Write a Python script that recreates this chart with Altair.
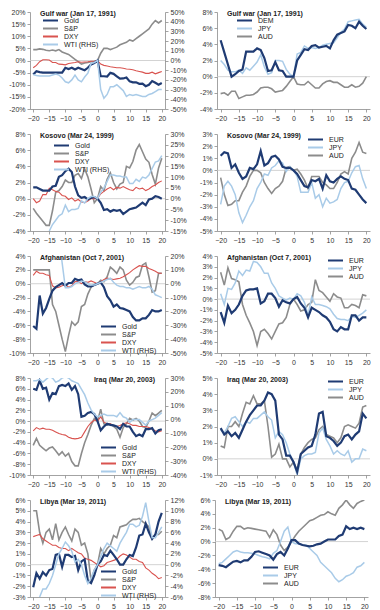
import altair as alt
import pandas as pd

days = list(range(-20, 21))
xticks = [-20, -15, -10, -5, 0, 5, 10, 15, 20]

# ---------- Gulf war (Jan 17, 1991) ----------
gulf_gold = [-5.8,-4.4,-4.8,-5,-5,-5,-5,-5,-5,-5, -3,-3.5,-3,-3.7,-3,-3.5,-4,-3,-1.6,-1, 0,
             -6.5,-6.5,-6.6,-5.1,-5.5,-6.5,-7.5,-7.4,-7,-8.6,-9,-9,-9.6,-9.5,-10.6,-10,-8.5,-9.2,-10,-9.3]
gulf_sp = [4.5,4.5,4.8,4.6,4.2,4,4.3,4,4.5,3.5, 3,2.5,1.5,0.5,-0.5,-1.5,-1,-0.8,-0.5,-0.5, 0,
           3,5,5,4.5,5,5.5,6.5,7,7.5,8.5,8,9,10,11,12,13,15,16.5,15.5,16.5]
gulf_dxy = [-3,-2,-0.5,0.3,0.3,0.2,-0.8,-0.8,-1.5,-1.6, -1.8,-1.2,-1,-0.8,-0.5,-0.7,-0.6,-0.5,-0.3,-0.2, 0,
            -1.5,-2,-2.3,-2.6,-2.8,-3,-3,-3.2,-3.5,-3.6,-3.8,-4.2,-4.5,-4.8,-5.3,-5.3,-4.8,-5.5,-5,-4.5]
gulf_wti = [-14.5,-15.5,-16,-16,-16,-16,-15,-14,-15,-18, -22,-23,-20,-15,-20,-22,-17,-13,-3,-2, 0,
            -30,-39,-35,-27,-27,-25,-28,-31,-37,-35,-36,-35,-36,-37,-37,-35,-34,-32,-30,-30]
gulf_dem = [4.5,3,1.5,0,0.3,0.7,0.9,3.1,3.1,3.1, 3.5,3.3,2.3,0.7,0.8,1.8,0.8,0.7,0,0, 0,
            2,2.7,3.4,3.3,3.8,3.9,3.6,3.7,3.8,3.5,4.5,5.2,5.4,5.6,6.4,6.3,6.0,6.8,6.3,5.9]
gulf_jpy = [2,1.5,0.8,0.6,0.6,0.8,0.4,1.1,0.8,1.3, 1.8,2.7,1.2,0.3,0.5,2,2,1.9,0.9,0.3, 0,
            2.8,3,3.8,3.5,3.6,3.5,3.6,3.9,4,4.1,4.2,4.8,5.5,5.9,6.8,6.9,7.0,7.1,6.5,6.1]
gulf_aud = [-2.1,-2,-2.3,-1.8,-1.8,-2.7,-2.5,-2.3,-2.3,-2.2, -1.9,-1.4,-1.3,-1.3,-1.5,-1.9,-1.8,-1.7,-1.2,-0.6, 0,
            -0.9,-1,-1,-0.6,-1,-1.4,-1.4,-0.9,-0.6,-0.5,-0.7,-0.7,-1,-1.3,-1.3,-1.0,-1.3,-1.2,-0.8,0]

# ---------- Kosovo (Mar 24, 1999) ----------
kos_gold = [1.4,1.4,1.2,1.0,1.0,1.0,1.5,1.6,2.7,2.9, 3.4,3.7,3.3,1.5,0.4,0.1,0.2,-0.1,0.1,0.2, 0,
            -0.5,-1.4,-1.3,-1.6,-1.4,-1.5,-1.4,-1.9,-1.6,-1.3,-1.2,-1.1,-0.8,-0.5,-0.8,-0.1,0,0.3,0.2,0]
kos_sp = [-1.2,-1.8,-2.3,-2.8,-3.3,-3.3,-1.5,0.8,1.0,1.5, 2.3,2.0,2.0,2.9,3.1,2.5,3.7,2.7,1.2,-0.5, 0,
          1.5,1.0,2.4,3.2,2.0,1.2,1.8,2.0,4.0,3.8,4.6,6.0,6.7,5.8,4.9,4.5,3.0,1.8,3.8,5.0]
kos_dxy = [0,-0.5,-0.3,0.5,0.5,1.3,1.1,0.9,0.8,0.4, 0.3,-0.1,0.1,-0.3,-0.1,-0.4,-0.5,-0.3,0,0, 0,
           0.6,0.9,1.2,1.4,1.1,1.4,1.3,1.5,1.3,1.1,1.0,1.4,1.2,1.3,1.0,1.2,1.5,1.7,2.0,2.2]
kos_wti = [None,None,None,None,None,-15,-12,-10,-8,-7, -3,-6,-5,-5,-4.5,-1,-2,0,1,1, 0,
           3,5,8,11,11,10.5,10.5,10,10,7,7,9,8,10,9.5,11,14,17,17.5,20]
kos_eur = [1.2,1.5,1.4,0.2,0.5,-0.2,-0.7,-0.5,0.2,0.1, 0.5,1.6,0.4,0.6,1.1,1.2,0.9,0.3,0.2,0.2, 0,
           -0.3,-0.8,-1.3,-1.4,-0.8,-0.9,-0.7,-1.5,-0.4,-0.9,-1.0,-0.7,-0.5,-0.7,-0.8,-1.5,-1.6,-2.0,-2.4,-2.7]
kos_jpy = [-2.8,-1.3,-0.9,-1.3,-2.0,-3.5,-4.3,-3.7,-3.0,-2.5, -1.5,-1.0,-0.3,-0.4,0.2,0.4,0.8,0.6,-0.1,0.3, 0,
           -0.5,-1.8,-1.8,-1.8,-1.0,-2.3,-2.0,-3.0,-2.3,-2.7,-2.6,-2.4,-1.5,-1.0,-0.9,-0.2,0.3,0.4,-0.7,-1.5]
kos_aud = [-0.6,-2.0,-2.9,-2.8,-2.5,-2.5,-1.8,-1.3,-0.5,0, 0,-0.2,-1.0,-1.5,-1.9,-1.5,-1.3,-0.9,0.2,0.3, 0,
           0.1,-0.3,-0.8,-1.5,-0.5,-0.5,-0.5,-1.0,-1.2,-1.5,-1.5,-1.0,-0.3,-0.1,-0.3,1.0,1.5,2.3,1.5,1.4]

# ---------- Afghanistan (Oct 7, 2001) ----------
afg_gold = [-6.1,-6.5,-1.7,-4.3,-3.5,-2.2,-1.0,-0.5,-0.2,0.1, -0.3,0.1,0.1,0.7,0.5,0.6,-0.1,-0.4,-0.4,-0.2, 0,
            0.2,-0.5,-1.8,-2.4,-3.3,-3.0,-3.5,-3.6,-3.8,-4.0,-4.8,-5.3,-5.3,-5.0,-5.0,-4.5,-3.8,-4.0,-4.0,-3.8]
afg_sp = [2,2,2,2,2,2,-3,-4,-6,-8, -9.8,-7.5,-5.5,-6,-5.5,-3.3,-3,-1.5,-0.5,-0.2, 0,
          0.5,0.3,1.0,2.4,2.0,1.5,2.4,2.0,0.5,-0.2,0.2,0.9,1.1,2.7,3.0,1.0,-1.2,-1.0,1.5,1.5]
afg_dxy = [1.2,1.8,1.5,1.5,1.3,1.2,-0.3,-0.6,-0.5,-0.3, -0.1,-0.5,-0.3,0.3,0.3,0,0.3,0.2,0.4,0.2, 0,
           0.3,0.6,0.8,0.7,0.6,0.7,0.8,1.0,1.3,1.6,2.0,2.3,2.6,2.5,2.5,2.2,2.0,1.8,1.5,1.5]
afg_wti = [None,None,None,None,None,None,None,None,35,15, -3,-3,-2,0,1,2,1.5,0,-1,-1, 0,
           1,2,3,4,1,-1,-2,-2,-3,-3,-4,-3,-2,-3,-3,-2,-4,-8,-9,-10]
afg_eur = [-1.2,-2.2,-0.6,-1.3,-1.0,-0.5,0.3,0.8,0.9,0.9, 1.0,-0.4,-0.2,0.5,0.5,0.1,-0.7,-0.1,-0.3,-0.4, 0,
           0.2,-0.4,-0.8,-1.7,-0.8,-1.0,-1.2,-1.5,-1.7,-2.1,-2.8,-3.0,-2.6,-2.8,-2.8,-1.5,-1.5,-2.0,-1.7,-1.7]
afg_jpy = [0.5,-0.5,1.0,0.9,1.5,2.6,2.2,2.7,2.6,3.5, 3.4,3.0,2.4,2.4,1.5,1.0,0.3,0.1,-0.1,0.1, 0,
           0.5,0.3,-0.3,-1.5,0.2,-0.5,-0.5,-0.6,-0.7,-0.9,-1.4,-1.8,-1.9,-1.9,-2.0,-1.6,-1.7,-1.5,-1.3,-1.0]
afg_aud = [2.5,1.3,2.9,1.9,1.8,1.6,-0.5,-1.5,-2.2,-3.0, -4.3,-3.0,-2.8,-3.2,-3.7,-3.0,-2.3,-2.2,-1.7,-0.5, 0,
           -0.5,-1.1,-1.0,-0.5,-0.3,1.8,0.8,0.6,0.2,-0.2,0.5,0.2,0.1,-0.8,-0.8,-0.5,-0.6,-0.8,0.4,0.3]

# ---------- Iraq (Mar 20, 2003) ----------
irq_gold = [6.0,5.8,7.5,6.0,6.2,4.0,5.2,5.0,6.5,6.7, 6.5,7.0,5.8,6.5,5.0,0.8,1.0,1.5,1.7,1.3, 0,
            -1.7,-1.0,-0.5,-0.7,-0.8,-1.0,-1.5,-0.5,-1.0,-1.0,-2.0,-2.8,-2.5,-2.8,-1.5,-1.5,-1.3,-2.3,-1.7,-1.5]
irq_sp = [-4.5,-3.2,-4.5,-5.0,-5.5,-5.0,-4.8,-5.5,-6.3,-5.7, -6.5,-6.0,-7.5,-8.3,-8.3,-6.0,-4.0,-2.5,-0.8,0.5, 0,
          2.2,-0.5,-0.7,-0.5,-1.0,-1.5,-3.0,-1.2,-0.5,0.5,0.2,0.5,0.0,-1.0,-1.2,0.0,1.5,1.0,1.5,2.0]
irq_dxy = [-1.8,-1.2,-1.5,-1.3,-1.5,-1.5,-1.7,-2.0,-2.3,-2.5, -2.6,-3.0,-3.2,-3.3,-3.2,-3.0,-2.0,-1.0,-0.3,0.2, 0,
           0.8,-0.2,-0.5,-0.5,-0.8,-1.0,-0.8,-0.5,-0.3,-0.5,-0.8,-0.8,-1.0,-1.0,-1.0,-1.2,-1.5,-1.8,-2.0,-1.8]
irq_wti = [28,28,29,27,29,31,30,27,28,30, 31,30,28,27,26,22,18,12,7,4, 2,
           3,4,3,3,3,2,5,2,1,-2,0,0,0,-2,-4,-1,0,1,3,5]
irq_eur = [1.9,1.5,1.7,1.4,1.6,1.3,1.8,2.3,2.7,3.0, 3.3,3.3,3.6,4.1,4.0,3.6,1.5,1.2,0.2,0.2, -0.2,
           -0.8,0.3,0.5,0.7,0.8,1.5,2.8,2.9,1.4,1.3,1.1,0.8,1.0,1.4,1.5,1.2,1.5,1.7,2.8,2.5]
irq_jpy = [1.8,1.6,2.0,2.5,2.6,2.3,2.0,2.3,2.2,2.5, 2.5,2.7,2.9,2.6,2.4,1.3,1.7,1.5,1.0,0.3, -0.2,
           -1.0,0.0,0.2,0.3,0.3,0.4,1.6,1.9,1.2,0.8,0.3,0.5,0.3,0.2,0.5,-0.2,0.0,0.0,0.6,0.5]
irq_aud = [0.8,0.7,2.0,2.0,2.3,2.0,2.8,3.5,3.4,3.9, 3.4,3.4,3.6,2.0,0.1,0.3,0.9,0.0,0.0,-0.5, -0.2,
           -0.7,0.3,0.7,1.0,1.2,1.3,1.8,2.0,1.5,1.4,1.3,1.0,1.3,2.0,2.1,2.0,1.9,2.2,3.2,3.3]

# ---------- Libya (Mar 19, 2011) ----------
lby_gold = [-2.1,-0.8,-1.3,-0.7,-1.0,-0.5,-0.4,0.9,1.0,-0.2, 0.9,0.9,0.7,0.8,-0.5,0.3,0.5,-1.5,-1.7,-1.0, 0,
            0.3,0.9,0.8,1.3,0.9,0.5,0.0,0.0,0.5,0.9,0.8,1.6,2.7,2.8,3.8,3.0,2.4,2.8,4.0,4.8]
lby_sp = [5.0,5.0,3.0,2.0,3.0,3.3,2.3,3.8,2.3,3.0, 3.5,2.8,2.2,3.3,3.0,1.8,2.0,1.0,-1.5,-0.5, 0,
          1.5,1.0,1.5,1.8,2.7,2.5,3.5,3.6,3.7,4.0,4.2,4.2,4.3,4.0,3.8,3.5,2.4,2.8,2.8,3.1]
lby_dxy = [2.6,2.7,2.8,2.4,2.2,2.0,1.8,1.8,1.6,1.5, 1.5,1.3,1.5,1.3,1.1,1.0,0.6,0.5,0.4,0.2, 0,
           -0.2,-0.1,0.2,0.3,0.4,0.5,0.8,1.0,0.9,0.7,0.5,0.5,0.3,0.2,-0.3,-0.5,-0.8,-1.0,-1.3,-1.2]
lby_wti = [None,None,-6,-4.5,-4.5,-3.5,-2,0,2,3, 4.2,3.5,2.5,0.5,1.0,0,-2,-3.5,-2.5,-1, 0,
           1.5,3,4,3.5,3,2.5,4,5,6,7.5,7.5,7,7.3,9,11.5,8,5,5,6,7]
lby_eur = [-3.4,-3.5,-3.7,-3.3,-2.9,-2.8,-3.0,-2.7,-2.7,-2.2, -1.5,-1.4,-1.6,-1.8,-2.0,-2.6,-1.8,-1.5,-2.0,-1.0, 0.2,
           0.2,-0.3,-0.5,-0.6,-0.7,-0.6,-0.4,-0.3,0.0,0.3,0.3,0.3,0.8,1.0,2.2,1.8,2.0,1.8,2.0,1.8]
lby_jpy = [-3.2,-3.0,-2.5,-2.0,-1.5,-1.3,-1.5,-1.6,-1.6,-1.7, -1.8,-2.0,-2.2,-2.3,-2.5,-1.7,-1.3,0.0,1.5,2.1, 0.0,
           -0.3,-0.3,-0.5,-0.5,-1.0,-1.5,-2.0,-3.0,-3.5,-4.0,-4.5,-5.3,-5.8,-5.5,-5.0,-4.8,-4.5,-3.7,-3.5,-3.0]
lby_aud = [1.8,1.5,0.3,0.6,1.5,2.2,2.2,1.8,2.0,1.9, 1.8,1.7,1.6,1.5,0.6,1.7,1.0,-0.5,-1.3,-0.8, 0.0,
           0.8,1.5,2.0,2.5,3.0,3.2,3.5,3.8,3.9,4.3,4.0,3.8,4.8,5.3,6.0,5.3,4.8,5.5,5.8,6.0]

NAVY = "#1F3B73"
GRAY = "#8C8C8C"
RED = "#D9534F"
LBLUE = "#A9CBE8"
FONT = "Liberation Sans"
WL, WR, H = 135, 153, 97

x_enc = alt.X("d:Q", scale=alt.Scale(domain=[-21, 21], nice=False, zero=False),
              axis=alt.Axis(values=xticks, title=None, grid=False))


def long_df(series):
    rows = []
    for name, vals, w in series:
        assert len(vals) == 41, (name, len(vals))
        for d, v in zip(days, vals):
            rows.append({"d": d, "v": v, "s": name, "w": w})
    return pd.DataFrame(rows)


def pct_axis(vals, orient):
    return alt.Axis(values=vals, orient=orient, title=None, grid=False,
                    labelExpr="datum.value + '%'")


def panel(title, series, ydom, yvals, names, colors, lx, ly, width,
          tanchor="start", tdx=10, wti=None):
    cscale = alt.Scale(domain=names, range=colors)
    leg = alt.Legend(title=None, orient="none", legendX=lx, legendY=ly)
    color = alt.Color("s:N", scale=cscale, legend=leg)
    yscale = alt.Scale(domain=ydom, nice=False, zero=False)
    yaxis = pct_axis(yvals, "left")
    zero = alt.Chart(pd.DataFrame({"v": [0]})).mark_rule(
        color="#C8C8C8", strokeWidth=0.8).encode(y=alt.Y("v:Q", scale=yscale, axis=yaxis))
    lines = alt.Chart(long_df(series)).mark_line(clip=True).encode(
        x=x_enc, y=alt.Y("v:Q", scale=yscale, axis=yaxis), color=color,
        strokeWidth=alt.StrokeWidth("w:Q", scale=None))
    chart = alt.layer(zero, lines)
    if wti is not None:
        wvals, wdom, wticks = wti
        wchart = alt.Chart(long_df([("WTI (RHS)", wvals, 1.5)])).mark_line(clip=True).encode(
            x=x_enc,
            y=alt.Y("v:Q", scale=alt.Scale(domain=wdom, nice=False, zero=False),
                    axis=pct_axis(wticks, "right")),
            color=color, strokeWidth=alt.StrokeWidth("w:Q", scale=None))
        chart = alt.layer(chart, wchart).resolve_scale(y="independent")
    return chart.properties(
        width=width, height=H,
        title=alt.TitleParams(title, anchor=tanchor, frame="group", offset=-9, dx=tdx))


LNAMES = ["Gold", "S&P", "DXY", "WTI (RHS)"]
LCOLS = [NAVY, GRAY, RED, LBLUE]
FCOLS = [NAVY, LBLUE, GRAY]


def rng(a, b, s):
    return list(range(a, b + 1, s))


p1l = panel("Gulf war (Jan 17, 1991)",
            [("S&P", gulf_sp, 1.6), ("DXY", gulf_dxy, 1.1), ("Gold", gulf_gold, 2.2)],
            [-20, 20], rng(-20, 20, 5), LNAMES, LCOLS, 17, 5, WL,
            wti=(gulf_wti, [-50, 50], rng(-50, 50, 10)))
p1r = panel("Gulf war (Jan 17, 1991)",
            [("AUD", gulf_aud, 1.6), ("JPY", gulf_jpy, 1.5), ("DEM", gulf_dem, 2.2)],
            [-4, 8], rng(-4, 8, 2), ["DEM", "JPY", "AUD"], FCOLS, 24, 5, WR)
p2l = panel("Kosovo (Mar 24, 1999)",
            [("S&P", kos_sp, 1.6), ("DXY", kos_dxy, 1.1), ("Gold", kos_gold, 2.2)],
            [-4, 8], rng(-4, 8, 2), LNAMES, LCOLS, 28, 8, WL,
            wti=(kos_wti, [-15, 30], rng(-15, 30, 5)))
p2r = panel("Kosovo (Mar 24, 1999)",
            [("AUD", kos_aud, 1.6), ("JPY", kos_jpy, 1.5), ("EUR", kos_eur, 2.2)],
            [-5, 3], rng(-5, 3, 1), ["EUR", "JPY", "AUD"], FCOLS, 95, 2, WR)
p3l = panel("Afghanistan (Oct 7, 2001)",
            [("S&P", afg_sp, 1.6), ("DXY", afg_dxy, 1.1), ("Gold", afg_gold, 2.2)],
            [-10, 4], rng(-10, 4, 2), LNAMES, LCOLS, 75, 67, WL,
            wti=(afg_wti, [-50, 20], rng(-50, 20, 10)))
p3r = panel("Afghanistan (Oct 7, 2001)",
            [("AUD", afg_aud, 1.6), ("JPY", afg_jpy, 1.5), ("EUR", afg_eur, 2.2)],
            [-5, 4], rng(-5, 4, 1), ["EUR", "JPY", "AUD"], FCOLS, 115, 1, WR)
p4l = panel("Iraq (Mar 20, 2003)",
            [("S&P", irq_sp, 1.6), ("DXY", irq_dxy, 1.1), ("Gold", irq_gold, 2.2)],
            [-10, 8], rng(-10, 8, 2), LNAMES, LCOLS, 75, 66, WL,
            tanchor="end", tdx=-10,
            wti=(irq_wti, [-40, 30], rng(-40, 30, 10)))
p4r = panel("Iraq (Mar 20, 2003)",
            [("AUD", irq_aud, 1.6), ("JPY", irq_jpy, 1.5), ("EUR", irq_eur, 2.2)],
            [-1, 5], rng(-1, 5, 1), ["EUR", "JPY", "AUD"], FCOLS, 115, 0, WR)
p5l = panel("Libya (Mar 19, 2011)",
            [("S&P", lby_sp, 1.6), ("DXY", lby_dxy, 1.1), ("Gold", lby_gold, 2.2)],
            [-3, 6], rng(-3, 6, 1), LNAMES, LCOLS, 75, 68, WL,
            wti=(lby_wti, [-6, 12], rng(-6, 12, 2)))
p5r = panel("Libya (Mar 19, 2011)",
            [("AUD", lby_aud, 1.6), ("JPY", lby_jpy, 1.5), ("EUR", lby_eur, 2.2)],
            [-8, 6], rng(-8, 6, 2), ["EUR", "JPY", "AUD"], FCOLS, 52, 64, WR)


def row(a, b):
    return alt.hconcat(a, b, spacing=12).resolve_scale(color="independent").resolve_legend(color="independent")


chart = alt.vconcat(row(p1l, p1r), row(p2l, p2r), row(p3l, p3r), row(p4l, p4r), row(p5l, p5r),
                    spacing=9).resolve_scale(color="independent").resolve_legend(color="independent")

chart = chart.properties(padding=0).configure_view(stroke=None).configure_axis(
    labelFont=FONT, labelFontSize=7, labelColor="#333333", domainColor="#8C8C8C",
    tickColor="#8C8C8C", tickSize=3, labelPadding=2, grid=False, domainWidth=0.8, tickWidth=0.8
).configure_legend(
    labelFont=FONT, labelFontSize=7, labelColor="#222222", symbolType="M-3,0H3",
    symbolStrokeWidth=2, symbolSize=25, symbolFillColor="transparent",
    rowPadding=-1, padding=0, labelOffset=10
).configure_title(font=FONT, fontSize=7, fontWeight="bold", color="#222222")

chart.save("out.html", embed_options={"renderer": "svg", "actions": False})
